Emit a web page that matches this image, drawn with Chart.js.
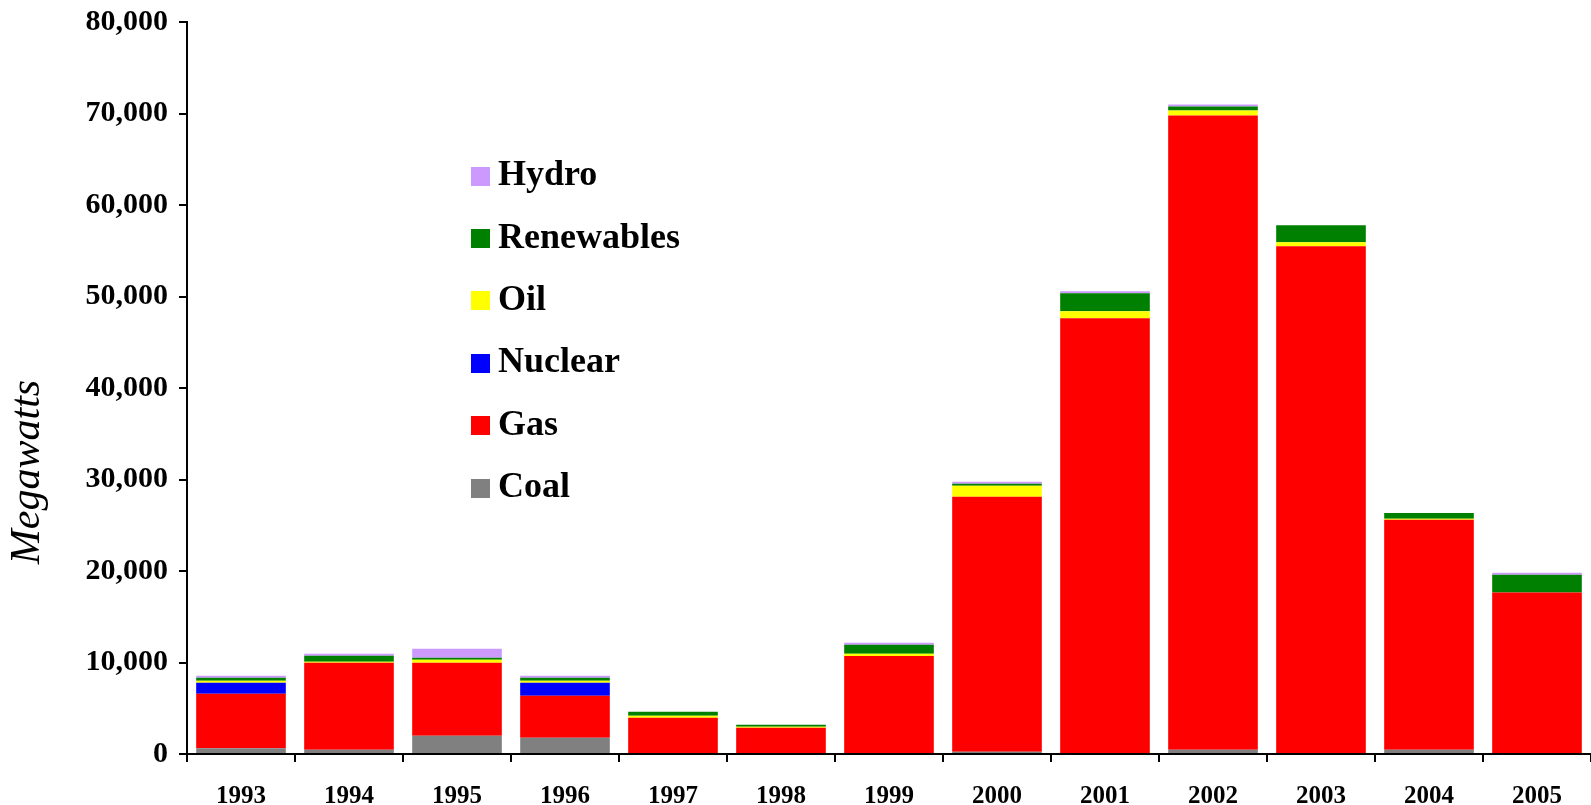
<!DOCTYPE html>
<html>

<head>
	<title>Capacity additions</title>
	<meta charset="UTF-8">
	<script src="https://cdn.jsdelivr.net/npm/chart.js@4.4.0/dist/chart.umd.min.js"></script>
	<style>
		body { margin: 0; background: #fff; }
		#wrap { position: relative; width: 1591px; height: 805px; }
		#legend { position: absolute; left: 471px; top: 142px; font-family: "Liberation Serif", serif; font-weight: bold; font-size: 36px; color: #000; }
		#legend .item { display: flex; align-items: center; height: 62.4px; white-space: nowrap; }
		#legend .box { width: 19px; height: 19px; margin-right: 8px; margin-top: 6px; }
	</style>
</head>

<body>
	<div id="wrap">
		<canvas id="capChart" width="1591" height="805"></canvas>
		<div id="legend"></div>
	</div>

	<script>
		var years = ["1993", "1994", "1995", "1996", "1997", "1998", "1999", "2000", "2001", "2002", "2003", "2004", "2005"];
		var coal = [620, 470, 2000, 1780, 0, 0, 0, 255, 0, 470, 0, 470, 0];
		var gas = [5970, 9500, 7970, 4590, 3970, 2880, 10700, 27850, 47630, 69320, 55490, 25120, 17650];
		var nuclear = [1200, 0, 0, 1420, 0, 0, 0, 0, 0, 0, 0, 0, 0];
		var oil = [220, 110, 330, 220, 220, 110, 260, 1200, 770, 550, 440, 110, 0];
		var renewables = [330, 660, 220, 330, 440, 220, 980, 220, 1960, 430, 1850, 650, 1930];
		var hydro = [220, 220, 980, 220, 0, 0, 220, 220, 220, 220, 0, 0, 220];
		var yTicks = [0, 10000, 20000, 30000, 40000, 50000, 60000, 70000, 80000];
		var yTitle = "Megawatts";

		var serif = "'Liberation Serif', serif";

		function ds(label, data, color) {
			return { label: label, data: data, backgroundColor: color, borderWidth: 0, categoryPercentage: 0.83, barPercentage: 1 };
		}

		// axis title sits lower than the middle of the axis in the original, so draw it by hand
		var titlePlugin = {
			id: "yTitle",
			afterDraw: function (c) {
				var ctx = c.ctx;
				ctx.save();
				ctx.translate(28, 472);
				ctx.rotate(-Math.PI / 2);
				ctx.font = "italic 42px " + serif;
				ctx.fillStyle = "#000";
				ctx.textAlign = "center";
				ctx.textBaseline = "middle";
				ctx.fillText(yTitle, 0, 0);
				ctx.restore();
			}
		};

		var chart = new Chart(document.getElementById("capChart"), {
			type: "bar",
			data: {
				labels: years,
				datasets: [
					ds("Coal", coal, "#808080"),
					ds("Gas", gas, "#FF0000"),
					ds("Nuclear", nuclear, "#0000FF"),
					ds("Oil", oil, "#FFFF00"),
					ds("Renewables", renewables, "#008000"),
					ds("Hydro", hydro, "#CC99FF")
				]
			},
			plugins: [titlePlugin],
			options: {
				responsive: false,
				animation: false,
				layout: { padding: 0 },
				plugins: { legend: { display: false }, tooltip: { enabled: false } },
				scales: {
					x: {
						stacked: true,
						border: { color: "#000", width: 2 },
						grid: { drawOnChartArea: false, color: "#000", lineWidth: 2, tickLength: 8 },
						ticks: { color: "#000", padding: 22, font: { family: serif, weight: "bold", size: 25, lineHeight: 1 } },
						afterFit: function (s) { s.height = 51; }
					},
					y: {
						stacked: true,
						min: 0,
						max: 80000,
						afterBuildTicks: function (s) { s.ticks = yTicks.map(function (v) { return { value: v }; }); },
						border: { color: "#000", width: 2 },
						grid: { drawOnChartArea: false, color: "#000", lineWidth: 2, tickLength: 8 },
						ticks: { color: "#000", padding: 11, font: { family: serif, weight: "bold", size: 30 } },
						afterFit: function (s) { s.width = 187; s.paddingTop = 22; }
					}
				}
			}
		});

		// legend drawn as html, top entry first like the original
		var legend = document.getElementById("legend");
		chart.data.datasets.slice().reverse().forEach(function (d) {
			var row = document.createElement("div");
			row.className = "item";
			row.innerHTML = '<span class="box" style="background:' + d.backgroundColor + '"></span>' + d.label;
			legend.appendChild(row);
		});
	</script>

</body>

</html>
